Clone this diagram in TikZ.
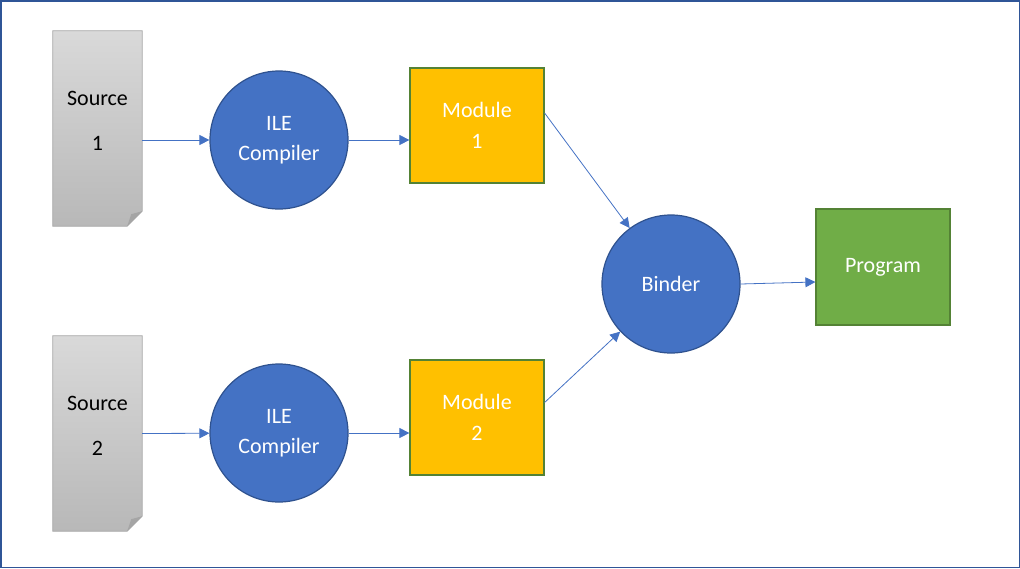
\documentclass[tikz,border=0pt]{standalone}
\usepackage{fontspec}
\setmainfont{Carlito}
\usepackage{tikz}
\usetikzlibrary{arrows.meta}
\definecolor{officeblue}{RGB}{68,114,196}
\definecolor{darkblue}{RGB}{47,82,143}
\definecolor{framecol}{RGB}{47,85,151}
\definecolor{gold}{RGB}{255,192,0}
\definecolor{leaf}{RGB}{112,173,71}
\definecolor{leafdark}{RGB}{84,130,53}
\definecolor{pagetop}{RGB}{217,217,217}
\definecolor{pagebot}{RGB}{184,184,184}
\definecolor{pageline}{RGB}{165,165,165}

\begin{document}
\begin{tikzpicture}
	[x=1pt, y=-1pt,
	every node/.style={font=\fontsize{22}{27}\selectfont},
	page/.style={rectangle, minimum width=89pt, minimum height=195pt, inner sep=0pt},
	unit/.style={circle, fill=officeblue, draw=darkblue, line width=1.2pt, minimum size=138pt, inner sep=0pt, text=white, align=center},
	module/.style={rectangle, fill=gold, draw=leafdark, line width=1.2pt, minimum width=134pt, minimum height=115pt, text=white, align=center},
	result/.style={rectangle, fill=leaf, draw=leafdark, line width=1.2pt, minimum width=134pt, minimum height=116pt, text=white},
	flow/.style={draw=officeblue, line width=0.8pt, -{Triangle[length=10pt, width=10pt]}}]
	\useasboundingbox (0,0) rectangle (1020,568);
	\draw[framecol, line width=1.5pt] (0.75,0.75) rectangle (1019.25,567.25);

	\node[page] (source1) at (97.5,128.5) {};
	\node[page] (source2) at (97.5,433.5) {};
	\shade[top color=pagetop, bottom color=pagebot, draw=pageline, line width=0.8pt]
		(source1.north west) -- (source1.north east) -- ([yshift=15pt]source1.south east)
		-- ([xshift=-15pt]source1.south east) -- (source1.south west) -- cycle;
	\fill[pageline] ([xshift=-15pt]source1.south east) -- ([xshift=-11pt,yshift=12pt]source1.south east)
		-- ([yshift=15pt]source1.south east) -- cycle;
	\shade[top color=pagetop, bottom color=pagebot, draw=pageline, line width=0.8pt]
		(source2.north west) -- (source2.north east) -- ([yshift=15pt]source2.south east)
		-- ([xshift=-15pt]source2.south east) -- (source2.south west) -- cycle;
	\fill[pageline] ([xshift=-15pt]source2.south east) -- ([xshift=-11pt,yshift=12pt]source2.south east)
		-- ([yshift=15pt]source2.south east) -- cycle;
	\node[align=center] (source1 text) at ([yshift=8pt]source1.center) {Source\\[18pt]1};
	\node[align=center] (source2 text) at ([yshift=8pt]source2.center) {Source\\[18pt]2};

	\node[unit] (compiler1) at (279,140) {ILE\\[3pt]Compiler};
	\node[unit] (compiler2) at (279,433) {ILE\\[3pt]Compiler};
	\node[module] (module1) at (477,125.5) {Module\\[4pt]1};
	\node[module] (module2) at (477,417.5) {Module\\[4pt]2};
	\node[unit] (binder) at (671,284) {Binder};
	\node[result] (program) at (883,267) {Program};

	\draw[flow] ([yshift=-11.5pt]source1.east) -- (compiler1);
	\draw[flow] (source2.east) -- (compiler2);
	\draw[flow] (compiler1.east) -- (compiler1.east -| module1.west);
	\draw[flow] (compiler2.east) -- (compiler2.east -| module2.west);
	\draw[flow] ([yshift=12.5pt]module1.east) -- (binder);
	\draw[flow] ([yshift=15pt]module2.east) -- (binder);
	\draw[flow] (binder.east) -- ([yshift=-15pt]program.west);
\end{tikzpicture}
\end{document}
